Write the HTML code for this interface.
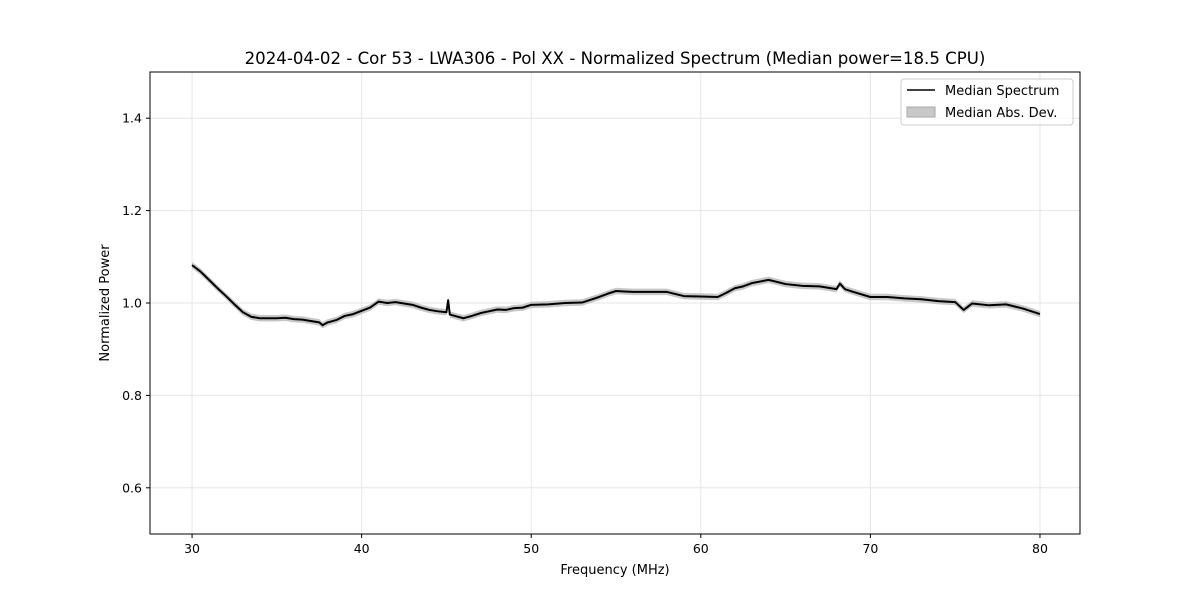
<!DOCTYPE html>
<html><head><meta charset="utf-8"><style>
body{margin:0;background:#fff;font-family:"Liberation Sans","DejaVu Sans",sans-serif}
text{font-family:"DejaVu Sans","Liberation Sans",sans-serif}
</style></head><body>
<svg id="chart" width="1200" height="600">
<rect width="1200" height="600" fill="#fff"/>
<g id="grid"></g><g id="series"></g><g id="axes"></g>
<text x="615" y="64" font-size="16.6" text-anchor="middle">2024-04-02 - Cor 53 - LWA306 - Pol XX - Normalized Spectrum (Median power=18.5 CPU)</text>
<text x="615" y="574" font-size="13" text-anchor="middle">Frequency (MHz)</text>
<text x="109" y="303" font-size="13" text-anchor="middle" transform="rotate(-90 109 303)">Normalized Power</text>
<g>
<rect x="901" y="79" width="172" height="46" rx="3" fill="#fff" stroke="#ccc" fill-opacity="0.8"/>
<line x1="907" y1="90" x2="935" y2="90" stroke="#000" stroke-width="1.5"/>
<text x="945" y="95" font-size="13">Median Spectrum</text>
<rect x="907" y="107" width="28" height="10" fill="#c8c8c8" stroke="#aaa"/>
<text x="945" y="117" font-size="13">Median Abs. Dev.</text>
</g>
</svg>
<script>
const freqs=[30,30.5,31,31.5,32,32.5,33,33.5,34,35,35.5,36,36.5,37,37.5,37.7,38,38.5,39,39.5,40,40.5,41,41.5,42,42.5,43,43.5,44,44.5,45,45.1,45.2,45.5,46,46.5,47,47.5,48,48.5,49,49.5,50,51,52,53,54,54.5,55,55.5,56,57,58,59,60,61,61.5,62,62.5,63,64,65,66,67,68,68.2,68.5,69,70,71,72,73,74,75,75.5,76,77,78,79,80];
const medians=[1.082,1.068,1.05,1.032,1.015,0.997,0.98,0.97,0.967,0.967,0.968,0.965,0.964,0.961,0.958,0.952,0.958,0.963,0.972,0.976,0.983,0.99,1.003,1.0,1.002,0.999,0.996,0.99,0.985,0.982,0.98,1.006,0.975,0.972,0.967,0.972,0.978,0.982,0.986,0.985,0.989,0.99,0.996,0.997,1.0,1.001,1.013,1.02,1.026,1.025,1.024,1.024,1.024,1.015,1.014,1.013,1.022,1.032,1.036,1.043,1.05,1.041,1.037,1.036,1.03,1.042,1.03,1.024,1.013,1.013,1.01,1.008,1.004,1.002,0.985,0.999,0.995,0.997,0.988,0.976];
const mads=medians.map(()=>0.007);
const xTicks=[30,40,50,60,70,80];
const yTicks=[0.6,0.8,1.0,1.2,1.4];
const X0=150,X1=1080,Y0=72,Y1=534,xmin=27.52,xmax=82.36,ymin=0.5,ymax=1.5;
const sx=v=>X0+(v-xmin)/(xmax-xmin)*(X1-X0);
const sy=v=>Y1-(v-ymin)/(ymax-ymin)*(Y1-Y0);
const NS='http://www.w3.org/2000/svg';
function mk(tag,attrs,parent){const e=document.createElementNS(NS,tag);for(const k in attrs)e.setAttribute(k,attrs[k]);parent.appendChild(e);return e;}
const grid=document.getElementById('grid'),series=document.getElementById('series'),axes=document.getElementById('axes');
xTicks.forEach(t=>{const x=sx(t);
 const g=mk('line',{x1:x,x2:x,y1:Y0,y2:Y1,stroke:'#e6e6e6','stroke-width':1},grid);
 
 
 mk('line',{x1:x,x2:x,y1:Y1,y2:Y1+4,stroke:'#000'},axes);
 const tx=mk('text',{x:x,y:Y1+19,'font-size':12.5,'text-anchor':'middle'},axes);tx.textContent=t;
 
 });
yTicks.forEach(t=>{const y=sy(t);
 const g=mk('line',{x1:X0,x2:X1,y1:y,y2:y,stroke:'#e6e6e6','stroke-width':1},grid);
 
 
 mk('line',{x1:X0-4,x2:X0,y1:y,y2:y,stroke:'#000'},axes);
 const tx=mk('text',{x:X0-8,y:y+4.5,'font-size':12.5,'text-anchor':'end'},axes);tx.textContent=t.toFixed(1);
 
 });
let up=freqs.map((f,i)=>sx(f)+','+sy(medians[i]+mads[i]));
let dn=freqs.map((f,i)=>sx(f)+','+sy(medians[i]-mads[i])).reverse();
const band=mk('polygon',{points:up.concat(dn).join(' '),fill:'#bdbdbd','fill-opacity':0.85},series);


const line=mk('polyline',{points:freqs.map((f,i)=>sx(f)+','+sy(medians[i])).join(' '),fill:'none',stroke:'#000','stroke-width':2,'stroke-linejoin':'round'},series);


const frame=mk('rect',{x:X0,y:Y0,width:X1-X0,height:Y1-Y0,fill:'none',stroke:'#000','stroke-width':1},axes);


</script>
</body></html>
